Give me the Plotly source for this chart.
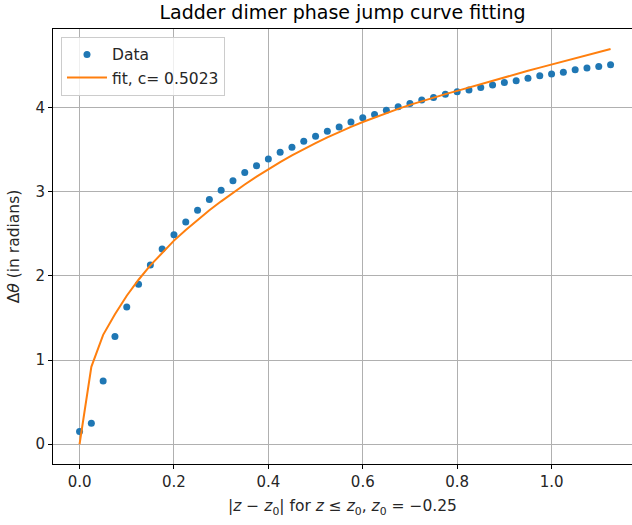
import plotly.graph_objects as go

# Distance from the jump point |z - z0| (step 0.025)
z_dist = [round(0.025 * i, 3) for i in range(46)]

# Measured phase jump (radians)
theta_data = [
    0.15, 0.25, 0.75, 1.28, 1.63, 1.90, 2.13, 2.32, 2.49, 2.64,
    2.78, 2.91, 3.02, 3.13, 3.23, 3.31, 3.39, 3.47, 3.53, 3.60,
    3.66, 3.72, 3.77, 3.83, 3.88, 3.92, 3.97, 4.01, 4.05, 4.09,
    4.12, 4.16, 4.19, 4.21, 4.24, 4.27, 4.30, 4.32, 4.35, 4.38,
    4.40, 4.42, 4.45, 4.47, 4.49, 4.51,
]

# Fitted curve evaluated at the same points
theta_fit = [
    0.000, 0.920, 1.300, 1.545, 1.765, 1.955, 2.125, 2.278, 2.420, 2.547,
    2.667, 2.780, 2.887, 2.989, 3.087, 3.180, 3.270, 3.353, 3.432, 3.507,
    3.578, 3.646, 3.711, 3.772, 3.830, 3.885, 3.937, 3.986, 4.033, 4.078,
    4.121, 4.161, 4.200, 4.241, 4.281, 4.321, 4.360, 4.399, 4.438, 4.476,
    4.514, 4.551, 4.588, 4.625, 4.662, 4.698,
]

fit_c = 0.5023

x_ticks = [0.0, 0.2, 0.4, 0.6, 0.8, 1.0]
y_ticks = [0, 1, 2, 3, 4]

FONT = "DejaVu Sans"
TXT = "#262626"

fig = go.Figure()
fig.add_trace(go.Scatter(
    x=z_dist, y=theta_data, mode="markers", name="Data",
    marker=dict(color="#1f77b4", size=7, line=dict(width=0)),
))
fig.add_trace(go.Scatter(
    x=z_dist, y=theta_fit, mode="lines", name=f"fit, c= {fit_c}",
    line=dict(color="#ff7f0e", width=2),
))

axis_common = dict(
    showgrid=True, gridcolor="#b0b0b0", gridwidth=0.8,
    zeroline=False, showline=True, linecolor="black", linewidth=1,
    ticks="outside", ticklen=4, tickwidth=0.8, tickcolor="black",
    tickfont=dict(family=FONT, size=15, color=TXT),
)

fig.update_layout(
    width=632, height=525,
    margin=dict(l=53, r=0, t=29, b=61),
    paper_bgcolor="white", plot_bgcolor="white",
    font=dict(family=FONT, color=TXT),
    title=dict(
        text="Ladder dimer phase jump curve fitting",
        x=0.5, xref="paper", xanchor="center",
        y=0.977, yref="container", yanchor="middle",
        font=dict(family=FONT, size=19, color="black"),
    ),
    xaxis=dict(
        range=[-0.05625, 1.1704],
        tickvals=x_ticks, ticktext=[f"{v:.1f}" for v in x_ticks],
        mirror=True,
        title=dict(
            text="|<i>z</i> − <i>z</i><sub>0</sub>| for <i>z</i> ≤ <i>z</i><sub>0</sub>, "
                 "<i>z</i><sub>0</sub> = −0.25",
            font=dict(family=FONT, size=15.5, color=TXT),
            standoff=10,
        ),
        **axis_common,
    ),
    yaxis=dict(
        range=[-0.235, 4.935],
        tickvals=y_ticks, ticktext=[str(v) for v in y_ticks],
        mirror=False,
        title=dict(
            text="Δ<i>θ</i> (in radians)",
            font=dict(family=FONT, size=15.5, color=TXT),
            standoff=12,
        ),
        **axis_common,
    ),
    legend=dict(
        x=0.0138, y=0.982, xanchor="left", yanchor="top",
        bgcolor="rgba(255,255,255,0.8)", bordercolor="#cccccc", borderwidth=1,
        font=dict(family=FONT, size=15.5, color=TXT),
        tracegroupgap=2, itemwidth=40,
    ),
    showlegend=True,
)

fig.write_html("out.html", config={"displayModeBar": False})
